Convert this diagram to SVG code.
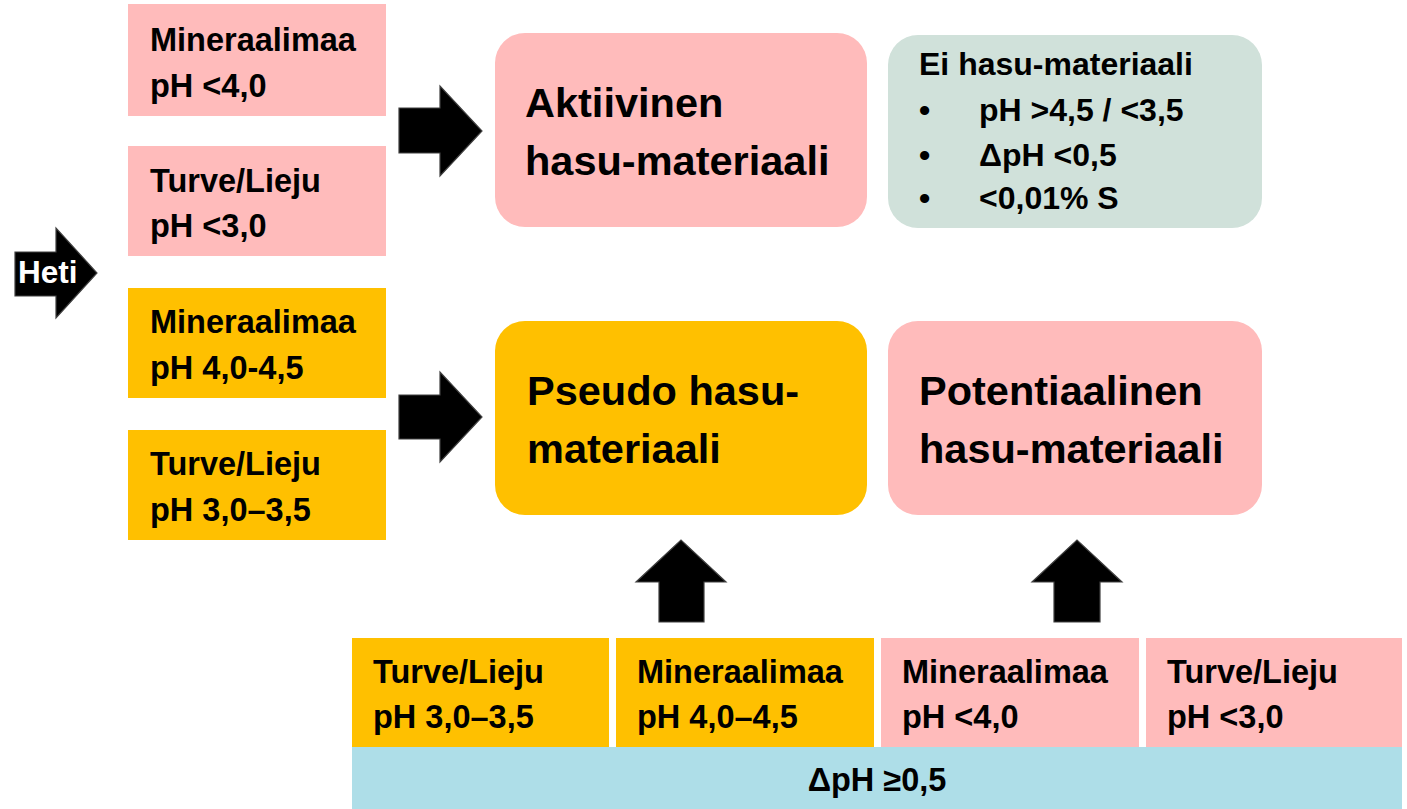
<svg xmlns="http://www.w3.org/2000/svg" width="1407" height="809" viewBox="0 0 1407 809">
<style>
text{font-family:"Liberation Sans",Arial,sans-serif;font-weight:bold;fill:#000}
.s{font-size:32.5px}
.b{font-size:41.5px}
.m{font-size:32px}
.pink{fill:#FFBBBB}
.yel{fill:#FFC000}
.arr{fill:#000;stroke:#404040;stroke-width:1.2}
</style>
<rect width="1407" height="809" fill="#fff"/>
<g id="heti">
<polygon class="arr" points="15,252 56,252 56,228 97,273 56,318 56,296 15,296"/>
<text x="18" y="283" style="font-size:31.5px;fill:#fff">Heti</text>
</g>
<g id="min-akt">
<rect class="pink" x="128" y="4" width="258" height="112"/>
<text class="s" x="150" y="51">Mineraalimaa</text>
<text class="s" x="150" y="97">pH &lt;4,0</text>
</g>
<g id="turve-akt">
<rect class="pink" x="128" y="146" width="258" height="110"/>
<text class="s" x="150" y="192">Turve/Lieju</text>
<text class="s" x="150" y="237">pH &lt;3,0</text>
</g>
<g id="min-pseudo">
<rect class="yel" x="128" y="288" width="258" height="110"/>
<text class="s" x="150" y="333">Mineraalimaa</text>
<text class="s" x="150" y="379">pH 4,0-4,5</text>
</g>
<g id="turve-pseudo">
<rect class="yel" x="128" y="430" width="258" height="110"/>
<text class="s" x="150" y="475">Turve/Lieju</text>
<text class="s" x="150" y="521">pH 3,0–3,5</text>
</g>
<g id="aktiivinen">
<rect class="pink" x="495" y="33" width="372" height="194" rx="30"/>
<text class="b" x="525" y="117">Aktiivinen</text>
<text class="b" x="525" y="175">hasu-materiaali</text>
</g>
<g id="ei-hasu">
<rect x="888" y="35" width="374" height="193" rx="30" fill="#D0E1DA"/>
<text class="m" x="919" y="75">Ei hasu-materiaali</text>
<text class="m" x="919" y="121">•</text><text class="m" x="979" y="121">pH &gt;4,5 / &lt;3,5</text>
<text class="m" x="919" y="166">•</text><text class="m" x="979" y="166">ΔpH &lt;0,5</text>
<text class="m" x="919" y="209">•</text><text class="m" x="979" y="209">&lt;0,01% S</text>
</g>
<g id="pseudo">
<rect class="yel" x="495" y="321" width="372" height="194" rx="30"/>
<text class="b" x="527" y="405">Pseudo hasu-</text>
<text class="b" x="527" y="463">materiaali</text>
</g>
<g id="potentiaalinen">
<rect class="pink" x="888" y="321" width="374" height="194" rx="30"/>
<text class="b" x="919" y="405">Potentiaalinen</text>
<text class="b" x="919" y="463">hasu-materiaali</text>
</g>
<g id="b-turve">
<rect class="yel" x="352" y="638" width="257" height="109"/>
<text class="s" x="373" y="683">Turve/Lieju</text>
<text class="s" x="373" y="728">pH 3,0–3,5</text>
</g>
<g id="b-min">
<rect class="yel" x="616" y="638" width="258" height="109"/>
<text class="s" x="637" y="683">Mineraalimaa</text>
<text class="s" x="637" y="728">pH 4,0–4,5</text>
</g>
<g id="b-min2">
<rect class="pink" x="881" y="638" width="258" height="109"/>
<text class="s" x="902" y="683">Mineraalimaa</text>
<text class="s" x="902" y="728">pH &lt;4,0</text>
</g>
<g id="b-turve2">
<rect class="pink" x="1146" y="638" width="256" height="109"/>
<text class="s" x="1167" y="683">Turve/Lieju</text>
<text class="s" x="1167" y="728">pH &lt;3,0</text>
</g>
<g id="band">
<rect x="352" y="747" width="1050" height="62" fill="#AEDEE8"/>
<text class="s" x="877" y="791" text-anchor="middle">ΔpH ≥0,5</text>
</g>
<g id="connectors">
<polygon class="arr" points="399,108 440,108 440,86 482,131 440,176 440,153 399,153"/>
<polygon class="arr" points="399,395 440,395 440,372 482,417 440,462 440,439 399,439"/>
<polygon class="arr" points="659,622 659,582 636,582 681,540 726,582 704,582 704,622"/>
<polygon class="arr" points="1054,622 1054,582 1032,582 1077,540 1122,582 1100,582 1100,622"/>
</g>
</svg>
